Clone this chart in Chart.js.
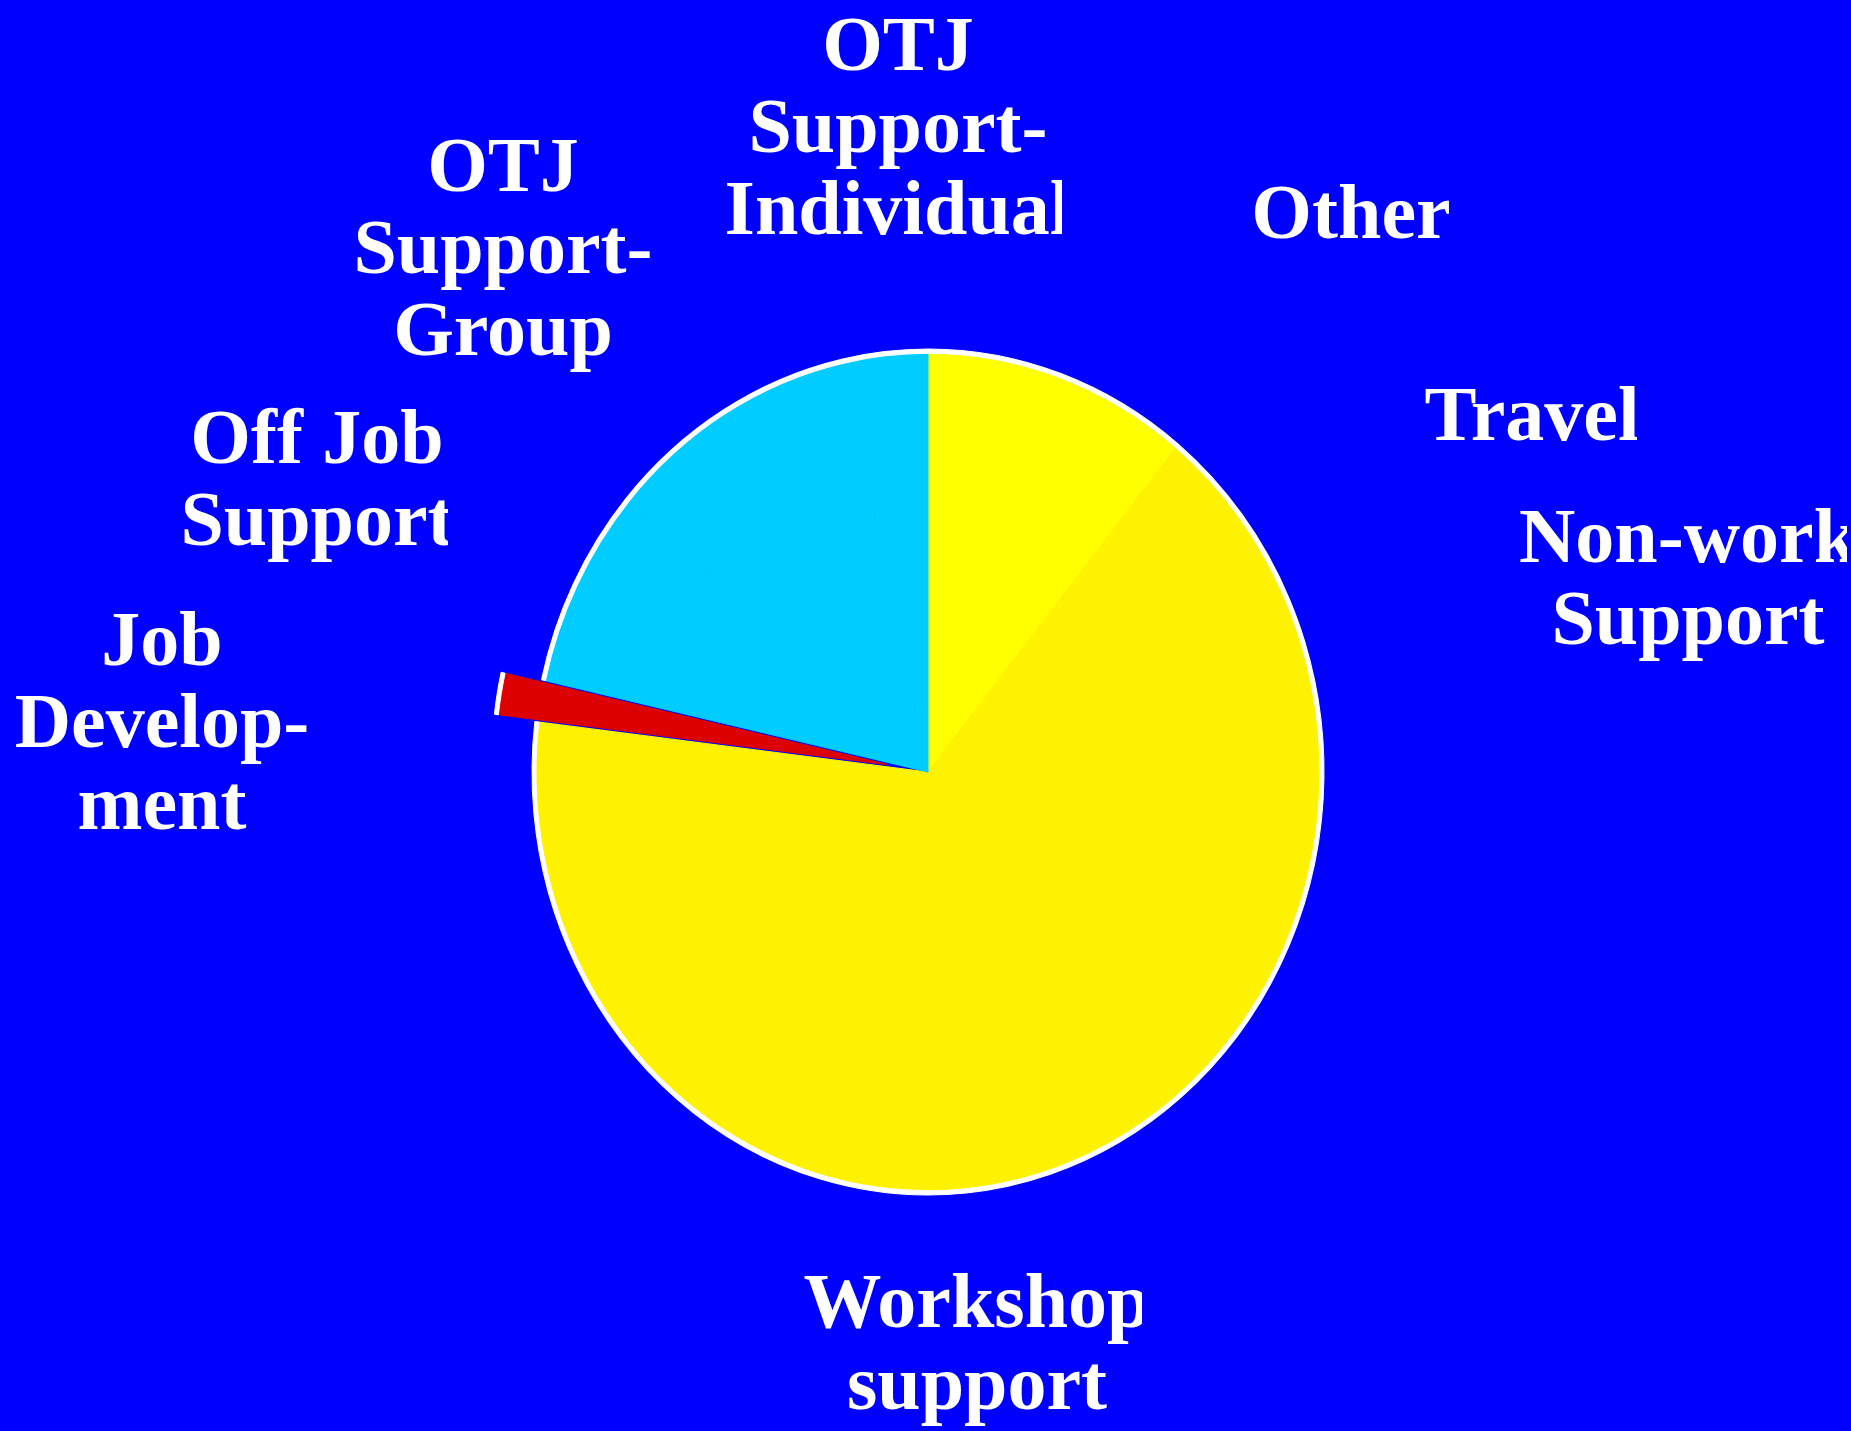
<!DOCTYPE html>
<html>
<head>
<meta charset="utf-8">
<script src="https://cdn.jsdelivr.net/npm/chart.js@4"></script>
<style>
    html, body { margin: 0; padding: 0; background: #0000FF; overflow: hidden; }
    canvas { display: block; }
</style>
</head>
<body>
<canvas id="costChart" width="1851" height="1431"></canvas>
<script>
// Data (share of the pie, clockwise from 12 o'clock)
const categories = ['Other', 'Travel', 'Non-work Support', 'Workshop support', 'Job Development', 'Off Job Support', 'OTJ Support-Group', 'OTJ Support-Individual'];
const shares = [10.9, 7.4, 1.7, 56.9, 1.6, 7.7, 10.3, 3.5];
const sliceColours = ['#FFFF00', '#FFF200', '#FFF200', '#FFF200', '#DD0000', '#00CCFF', '#00CCFF', '#00CCFF'];
const labelLines = [
    ['Other'],
    ['Travel'],
    ['Non-work', 'Support'],
    ['Workshop', 'support'],
    ['Job', 'Develop-', 'ment'],
    ['Off Job', 'Support'],
    ['OTJ', 'Support-', 'Group'],
    ['OTJ', 'Support-', 'Individual']
];

// text placement: centre x, first baseline, right clip edge (null = no clip)
const labelLayout = [
    [1351, 238, null],
    [1532, 440, 1637],
    [1688, 562, 1847],
    [977, 1327, 1142],
    [162, 665, null],
    [317, 463, 448],
    [503, 191, 652],
    [898, 70, 1062]
];
const explodedSlice = 4;   // Job Development is pulled out
const explodeBy = 41;
const stretchY = 423 / 396; // the pie is a little taller than wide

// stretch the pie vertically and pull one slice out
const piePlugin = {
    id: 'piePlugin',
    beforeDatasetDraw(chart, args) {
        const ctx = chart.ctx;
        const arc = args.meta.data[explodedSlice];
        const cx = arc.x, cy = arc.y;
        ctx.save();
        ctx.translate(cx, cy);
        ctx.scale(1, stretchY);
        ctx.translate(-cx, -cy);
        const mid = (arc.startAngle + arc.endAngle) / 2;
        arc._home = [arc.x, arc.y];
        arc.x = cx + Math.cos(mid) * explodeBy;
        arc.y = cy + Math.sin(mid) * explodeBy;
    },
    afterDatasetDraw(chart, args) {
        const arc = args.meta.data[explodedSlice];
        if (arc._home) {
            arc.x = arc._home[0];
            arc.y = arc._home[1];
        }
        chart.ctx.restore();
    }
};

// data labels, clipped like the original text boxes
const labelPlugin = {
    id: 'labelPlugin',
    afterDraw(chart) {
        const ctx = chart.ctx;
        ctx.fillStyle = '#FFFFFF';
        ctx.font = 'bold 78px "Liberation Serif", "Times New Roman", serif';
        ctx.textAlign = 'center';
        ctx.textBaseline = 'alphabetic';
        labelLines.forEach((lines, i) => {
            const [x, y, clipRight] = labelLayout[i];
            ctx.save();
            if (clipRight !== null) {
                ctx.beginPath();
                ctx.rect(0, 0, clipRight, chart.height);
                ctx.clip();
            }
            lines.forEach((line, j) => ctx.fillText(line, x, y + j * 82));
            ctx.restore();
        });
    }
};

new Chart(document.getElementById('costChart'), {
    type: 'pie',
    data: {
        labels: categories,
        datasets: [
            {
                // thin white rim round the outside
                data: shares,
                backgroundColor: '#FFFFFF',
                borderColor: '#FFFFFF',
                borderWidth: 1,
                weight: 4
            },
            {
                data: shares,
                backgroundColor: sliceColours,
                borderColor: sliceColours,
                borderWidth: 1,
                weight: 392
            }
        ]
    },
    options: {
        responsive: false,
        animation: false,
        radius: 396,
        layout: { padding: { left: 5, right: 0, top: 113, bottom: 0 } },
        plugins: {
            legend: { display: false },
            tooltip: { enabled: false }
        }
    },
    plugins: [piePlugin, labelPlugin]
});
</script>
</body>
</html>
